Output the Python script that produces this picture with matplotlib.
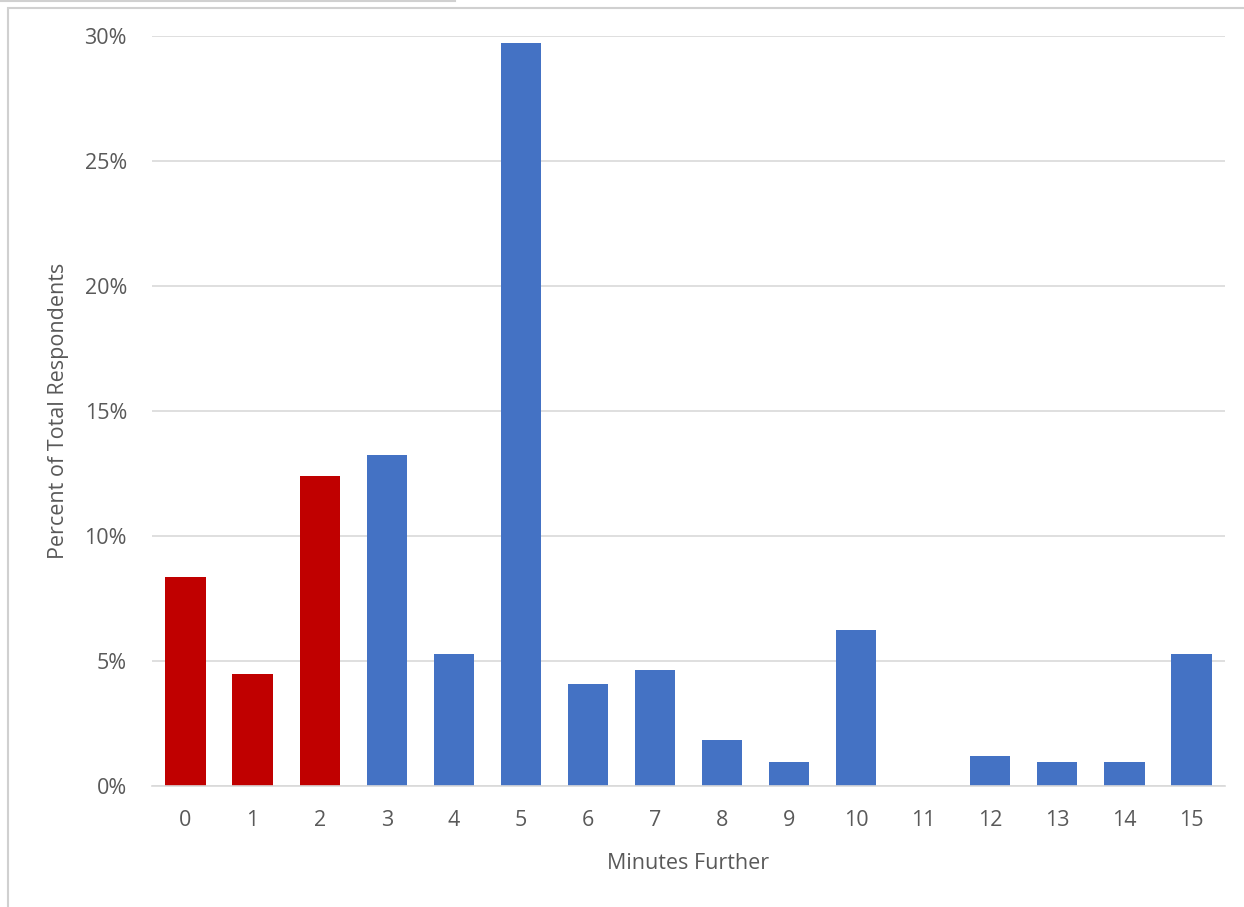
import matplotlib
matplotlib.use("Agg")
import matplotlib.pyplot as plt
from matplotlib.patches import Rectangle
from matplotlib.lines import Line2D
from matplotlib.ticker import FuncFormatter, MultipleLocator

minutes = ["0", "1", "2", "3", "4", "5", "6", "7", "8", "9", "10", "11", "12", "13", "14", "15"]
percent = [8.36, 4.48, 12.4, 13.24, 5.28, 29.72, 4.08, 4.64, 1.84, 0.96, 6.24, 0.0, 1.2, 0.96, 0.96, 5.28]
highlight = ["0", "1", "2"]

RED = "#C00000"
BLUE = "#4472C4"
TEXT = "#595959"
GRID = "#D9D9D9"

plt.rcParams["font.family"] = ["Open Sans", "DejaVu Sans"]

fig = plt.figure(figsize=(12.44, 9.07), dpi=100)
fig.patch.set_facecolor("white")

# outer frame of the chart area
fig.add_artist(Rectangle((8 / 1244, -0.01), 1.02, 1 - 8 / 907 + 0.01,
                         transform=fig.transFigure, fill=False,
                         edgecolor="#D0D0D0", linewidth=1.5))
fig.add_artist(Line2D([0, 455 / 1244], [1 - 0.5 / 907, 1 - 0.5 / 907],
                      transform=fig.transFigure, color="#D0D0D0", linewidth=1.5))

ax = fig.add_axes([152 / 1244, 1 - 786 / 907, (1225 - 152) / 1244, (786 - 36) / 907])

x = list(range(len(minutes)))
colors = [RED if m in highlight else BLUE for m in minutes]
ax.bar(x, percent, width=0.6, color=colors, zorder=3)

ax.set_xlim(-0.5, len(minutes) - 0.5)
ax.set_ylim(0, 30)
ax.yaxis.set_major_locator(MultipleLocator(5))
ax.yaxis.set_major_formatter(FuncFormatter(lambda v, p: f"{v:.0f}%"))
ax.set_xticks(x)
ax.set_xticklabels(minutes)

ax.grid(axis="y", color=GRID, linewidth=1.2, zorder=0)
for s in ["top", "right", "left"]:
    ax.spines[s].set_visible(False)
ax.spines["bottom"].set_color(GRID)
ax.spines["bottom"].set_linewidth(1.2)
ax.spines["bottom"].set_zorder(4)

ax.tick_params(axis="both", length=0, colors=TEXT, labelsize=15.5)
ax.tick_params(axis="x", pad=17)
ax.tick_params(axis="y", pad=18)

ax.set_xlabel("Minutes Further", color=TEXT, fontsize=15.5, labelpad=16)
ax.set_ylabel("Percent of Total Respondents", color=TEXT, fontsize=15.5, labelpad=11)

fig.savefig("out.png", dpi=100, facecolor="white")
